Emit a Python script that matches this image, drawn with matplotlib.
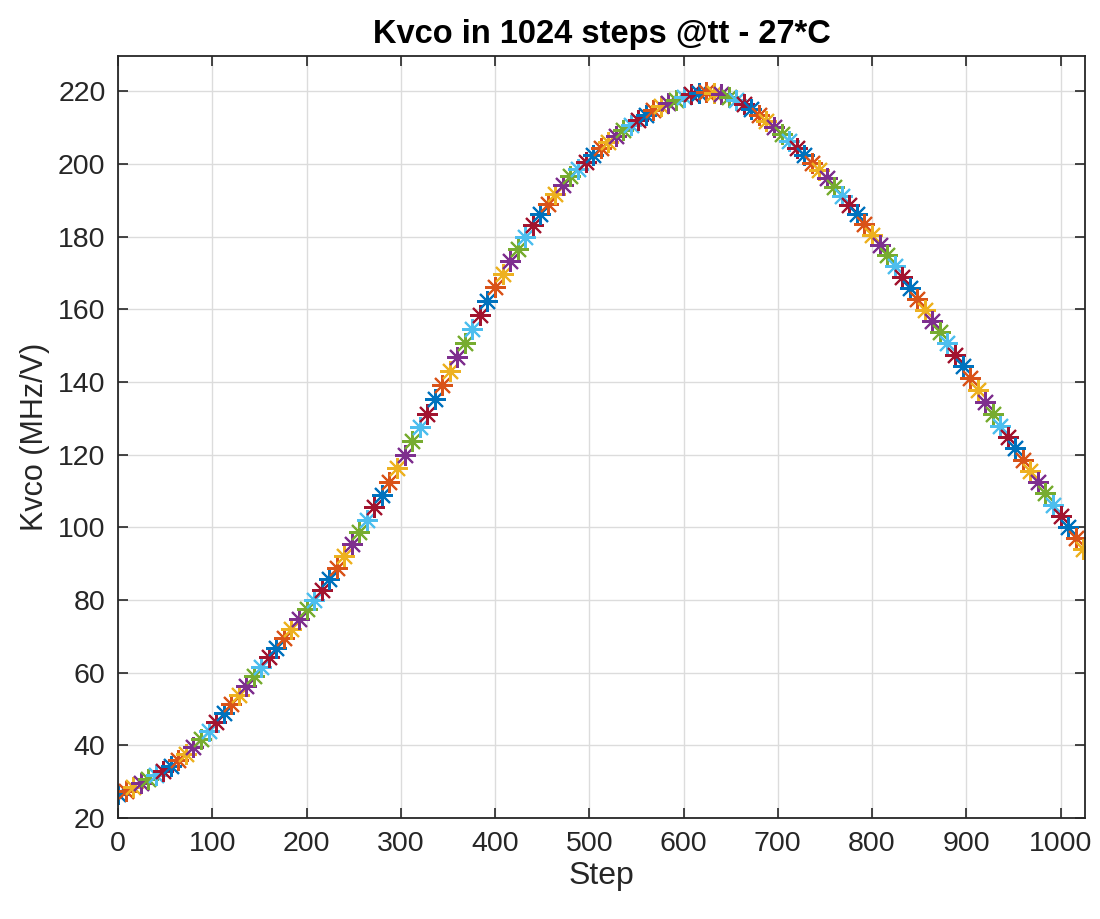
import numpy as np
import matplotlib.pyplot as plt

plt.rcParams['font.family'] = ['Liberation Sans', 'DejaVu Sans']

# Kvco, every 8 steps
steps = np.arange(0, 1025, 8)
kvco = [
    26.5, 27.4, 28.4, 29.5, 30.6, 31.8, 33.0, 34.4,
    36.0, 37.7, 39.6, 41.7, 44.0, 46.4, 48.8, 51.3,
    53.8, 56.4, 59.0, 61.6, 64.2, 66.8, 69.5, 72.1,
    74.8, 77.4, 80.0, 82.8, 85.8, 88.9, 92.0, 95.3,
    98.6, 102.0, 105.5, 109.0, 112.6, 116.3, 120.0, 123.7,
    127.5, 131.3, 135.2, 139.1, 143.0, 146.9, 150.8, 154.7,
    158.5, 162.3, 166.0, 169.7, 173.2, 176.7, 180.0, 183.2,
    186.2, 189.1, 191.8, 194.3, 196.6, 198.7, 200.6, 202.5,
    204.3, 206.0, 207.7, 209.3, 210.8, 212.2, 213.5, 214.7,
    215.8, 216.8, 217.7, 218.5, 219.1, 219.5, 219.7, 219.6,
    219.2, 218.5, 217.6, 216.4, 215.0, 213.5, 211.8, 210.1,
    208.2, 206.3, 204.4, 202.4, 200.3, 198.2, 196.0, 193.7,
    191.3, 188.8, 186.1, 183.4, 180.5, 177.7, 174.8, 171.9,
    168.9, 165.9, 162.9, 159.9, 156.8, 153.7, 150.6, 147.5,
    144.3, 141.1, 137.8, 134.6, 131.3, 128.0, 124.8, 121.7,
    118.6, 115.5, 112.4, 109.3, 106.2, 103.1, 100.0, 97.0,
    94.0,
]

# MATLAB default colour order
matlab_colors = ['#0072BD', '#D95319', '#EDB120', '#7E2F8E',
                 '#77AC30', '#4DBEEE', '#A2142F']

fig = plt.figure(figsize=(11, 9.19), dpi=100)
ax = fig.add_axes([0.1073, 0.1099, 0.8791, 0.8292])

# matlab style asterisk: plus and cross on top of each other
for i, (s, v) in enumerate(zip(steps, kvco)):
    ax.plot(s, v, linestyle='none', marker=(8, 2, 0), markersize=15,
            markeredgewidth=1.5, color=matlab_colors[i % len(matlab_colors)])

ax.set_xlim(0, 1026)
ax.set_ylim(20, 229.7)
ax.set_xticks(np.arange(0, 1001, 100))
ax.set_yticks(np.arange(20, 221, 20))

ax.grid(True, color='#dcdcdc', linewidth=1.0)
ax.set_axisbelow(True)
ax.tick_params(direction='in', length=7, width=1.2, top=True, right=True,
               labelsize=20.5, labelcolor='#262626', color='#262626', pad=9)
for sp in ax.spines.values():
    sp.set_color('#262626')
    sp.set_linewidth(1.3)

ax.set_xlabel('Step', fontsize=23, color='#262626', labelpad=3)
ax.set_ylabel('Kvco (MHz/V)', fontsize=22, color='#262626', labelpad=6)
ax.set_title('Kvco in 1024 steps @tt - 27*C', fontsize=23.5, fontweight='bold', pad=9)

fig.savefig('out.png', dpi=100)
